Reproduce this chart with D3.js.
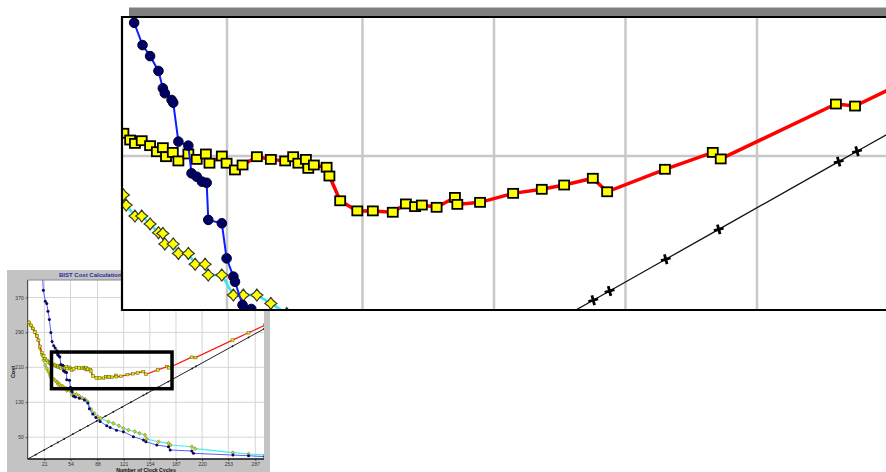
<!DOCTYPE html>
<html>
<head>
<meta charset="utf-8">
<script src="https://cdn.jsdelivr.net/npm/d3@7"></script>
<style>
  body { margin: 0; background: #fff; }
  svg { display: block; font-family: "Liberation Sans", Arial, sans-serif; }
</style>
</head>
<body>
<svg id="chart" width="886" height="472"></svg>
<script>
// tick labels of the small chart
const xTicks = [21, 54, 88, 121, 154, 187, 220, 253, 287];
const yTicks = [50, 130, 210, 290, 370];

// blue line, navy dots
const blueX = [18, 19.7, 22.2, 24, 25.6, 27.3, 29.2, 30.7, 32.8, 34.7, 36.8, 37.9, 38.4, 40.1, 40.5, 41.8, 44.3, 45.1, 46.4, 47.7, 48.9, 49.3, 52.7, 53.9, 55.6, 56, 57.9, 60.1, 65.2, 71.5, 75.8, 77.8, 82, 86, 91.3, 99.7, 104, 112, 120.7, 133.3, 146, 149, 162.8, 177.5, 179.7, 207, 209, 258.8, 278.5, 299];
const blueY = [440, 386.7, 361.6, 356, 338.7, 319.7, 290, 269.2, 259.3, 254.4, 247.8, 240.1, 237.9, 234.9, 233.7, 216.4, 214.6, 202.3, 200.8, 198.6, 198.1, 181.6, 180.1, 164.5, 156.4, 154.1, 143.8, 142, 139, 135, 128, 115, 103, 95, 86, 76, 72, 66, 62.5, 51, 43.5, 39.6, 32, 28, 20.6, 18.3, 13, 9, 7.5, 5.3];

// red line, yellow squares
const redX = [1.6, 4, 6.5, 9, 11.5, 13.5, 15.5, 17.7, 20, 22, 24, 26, 28, 29.7, 30.9, 32.6, 34.7, 36.4, 37.9, 38.7, 40.4, 41.8, 44.3, 46.4, 48.7, 49.6, 52.7, 53.9, 56, 57.9, 61.5, 65, 68.6, 70.6, 71.9, 73.8, 74.4, 75.8, 79, 79.7, 82.4, 86.7, 90.6, 95.6, 98.9, 101.2, 102.9, 106.6, 111.2, 111.8, 117.5, 125.8, 133, 138.6, 145.8, 149.4, 163.9, 175.9, 177.9, 206.8, 211.6, 258.3, 278.5, 299];
const redY = [313, 306, 299, 291, 282, 272, 258, 244, 236, 230, 226, 222, 220.1, 217.1, 215.6, 216.8, 214.6, 211.9, 213.7, 209.7, 211.6, 207.8, 210.9, 208.5, 210.9, 206.8, 210, 206.8, 203.8, 206, 209.7, 208.5, 207.8, 209.7, 206.8, 208.5, 204.5, 206, 205, 201.1, 190.1, 185.6, 185.6, 185, 188.7, 187.5, 188.2, 187.2, 191.6, 188.5, 189.4, 193.4, 195.2, 197.1, 200.1, 194.1, 204.1, 211.6, 208.7, 233.1, 232.2, 272.3, 289, 306.5];

// cyan line, yellow diamonds
const cyanX = [1.6, 4, 6.5, 9, 11.5, 13.5, 15.5, 18, 20, 22, 24, 26, 28, 28.7, 30.9, 32.6, 34.7, 36.8, 37.9, 38.4, 40.5, 41.8, 44.3, 46, 48.5, 49.3, 52.7, 55.6, 58.1, 61.5, 65, 69, 72.7, 75.8, 79.9, 84.1, 88.4, 92, 101.8, 108.1, 115, 120.7, 127, 135, 141, 148, 150.2, 164.9, 177.5, 180, 207, 211.2, 258.8, 278.5, 299.6];
const cyanY = [313, 306, 299, 291, 282, 272, 253, 238, 226, 215, 207, 200, 192.7, 188.2, 183.3, 183.3, 179.8, 175.9, 175.6, 170.9, 170.9, 166.7, 166.7, 161.9, 161.9, 157.1, 157.1, 148.2, 148.2, 148.2, 144.5, 140, 136.6, 131.1, 113.7, 104.6, 96.8, 93, 85.4, 81.7, 76, 70.2, 66.4, 63, 58.8, 55, 45.8, 39.6, 35.9, 32, 28.1, 23.6, 14.4, 11.4, 9.2];

// black line, crosses
const blackX = [0, 10, 21, 30, 38, 46, 57, 66, 76, 87, 98, 108, 119, 130, 145.9, 150, 164.1, 177.4, 207.5, 212.1, 258.3, 278.5, 298];
const blackY = [0, 10, 21, 30, 38, 46, 57, 66, 76, 87, 98, 108, 119, 130, 145.9, 150, 164.1, 177.4, 207.5, 212.1, 258.3, 278.5, 298];

// the zoomed window marked on the small chart
const zoomWindowX = [30, 182];
const zoomWindowY = [161, 245];

const zipXY = (xs, ys) => xs.map((x, i) => ({ x: x, y: ys[i] }));
const blue = zipXY(blueX, blueY);
const red = zipXY(redX, redY);
const cyan = zipXY(cyanX, cyanY);
const black = zipXY(blackX, blackY);

const svg = d3.select("#chart");

// ---------- small chart ----------
const small = { left: 27.7, right: 264, top: 280, bottom: 459 };
const sx = d3.scaleLinear().domain([0, 298]).range([small.left, small.right]);
const sy = d3.scaleLinear().domain([0, 410]).range([small.bottom, small.top]);

const sg = svg.append("g");
sg.append("rect").attr("x", 7).attr("y", 270).attr("width", 263).attr("height", 202).attr("fill", "#c3c3c3");
sg.append("defs").append("clipPath").attr("id", "smallClip")
    .append("rect").attr("x", small.left).attr("y", small.top)
    .attr("width", small.right - small.left).attr("height", small.bottom - small.top);
sg.append("rect").attr("x", small.left).attr("y", small.top)
    .attr("width", small.right - small.left).attr("height", small.bottom - small.top)
    .attr("fill", "#fff");

sg.append("g").selectAll("line").data(xTicks).join("line")
    .attr("x1", d => sx(d)).attr("x2", d => sx(d))
    .attr("y1", small.top).attr("y2", small.bottom)
    .attr("stroke", "#d6d6d6").attr("stroke-width", 1);
sg.append("g").selectAll("line").data(yTicks).join("line")
    .attr("x1", small.left).attr("x2", small.right)
    .attr("y1", d => sy(d)).attr("y2", d => sy(d))
    .attr("stroke", "#d6d6d6").attr("stroke-width", 1);

// axes
const xAxis = sg.append("g").attr("transform", `translate(0,${small.bottom})`)
    .call(d3.axisBottom(sx).tickValues(xTicks).tickSize(2).tickPadding(1).tickFormat(d3.format("d")));
const yAxis = sg.append("g").attr("transform", `translate(${small.left},0)`)
    .call(d3.axisLeft(sy).tickValues(yTicks).tickSize(2).tickPadding(2).tickFormat(d3.format("d")));
[xAxis, yAxis].forEach(ax => {
    ax.select(".domain").remove();
    ax.selectAll(".tick line").attr("stroke", "#555");
    ax.selectAll(".tick text").attr("font-size", 5).attr("fill", "#333").attr("font-family", "Liberation Sans, Arial");
});
sg.append("line").attr("x1", small.left).attr("x2", small.right).attr("y1", small.bottom).attr("y2", small.bottom)
    .attr("stroke", "#111").attr("stroke-width", 1.5);
sg.append("line").attr("x1", small.left).attr("x2", small.left).attr("y1", small.top).attr("y2", small.bottom)
    .attr("stroke", "#333").attr("stroke-width", 1);
sg.append("line").attr("x1", small.left).attr("x2", small.right).attr("y1", small.top).attr("y2", small.top)
    .attr("stroke", "#888").attr("stroke-width", 1);

sg.append("text").attr("x", 59).attr("y", 277).attr("font-size", 6).attr("font-weight", "bold")
    .attr("fill", "#2a2a9c").text("BIST Cost Calculation");
sg.append("text").attr("x", 146).attr("y", 471.5).attr("font-size", 5.2).attr("font-weight", "bold")
    .attr("text-anchor", "middle").attr("fill", "#111").text("Number of Clock Cycles");
sg.append("text").attr("transform", "translate(14.5,372) rotate(-90)").attr("font-size", 5.5)
    .attr("font-weight", "bold").attr("text-anchor", "middle").attr("fill", "#111").text("Cost");

const sLine = d3.line().x(d => sx(d.x)).y(d => sy(d.y));
const sPlot = sg.append("g").attr("clip-path", "url(#smallClip)");

sPlot.append("path").datum(black).attr("d", sLine).attr("fill", "none").attr("stroke", "#222").attr("stroke-width", 1);
sPlot.selectAll(".sblk").data(black).join("circle").attr("class", "sblk")
    .attr("cx", d => sx(d.x)).attr("cy", d => sy(d.y)).attr("r", 0.9).attr("fill", "#111");

sPlot.append("path").datum(cyan).attr("d", sLine).attr("fill", "none").attr("stroke", "#3ff0f0").attr("stroke-width", 1.2);
sPlot.selectAll(".sdia").data(cyan).join("path").attr("class", "sdia")
    .attr("transform", d => `translate(${sx(d.x)},${sy(d.y)})`)
    .attr("d", "M0,-2L1.6,0L0,2L-1.6,0Z").attr("fill", "#d8d800").attr("stroke", "#6b6b20").attr("stroke-width", 0.5);

sPlot.append("path").datum(red).attr("d", sLine).attr("fill", "none").attr("stroke", "#ff1a1a").attr("stroke-width", 1.2);
sPlot.selectAll(".ssq").data(red).join("rect").attr("class", "ssq")
    .attr("x", d => sx(d.x) - 1.5).attr("y", d => sy(d.y) - 1.3).attr("width", 3).attr("height", 2.6)
    .attr("fill", "#e8e800").attr("stroke", "#5a5a10").attr("stroke-width", 0.5);

sPlot.append("path").datum(blue).attr("d", sLine).attr("fill", "none").attr("stroke", "#5a5aff").attr("stroke-width", 1);
sPlot.selectAll(".sblu").data(blue).join("circle").attr("class", "sblu")
    .attr("cx", d => sx(d.x)).attr("cy", d => sy(d.y)).attr("r", 1.5).attr("fill", "#0a0a5a");

// black frame around the zoomed window
sg.append("rect")
    .attr("x", sx(zoomWindowX[0])).attr("y", sy(zoomWindowY[1]))
    .attr("width", sx(zoomWindowX[1]) - sx(zoomWindowX[0]))
    .attr("height", sy(zoomWindowY[0]) - sy(zoomWindowY[1]))
    .attr("fill", "none").attr("stroke", "#000").attr("stroke-width", 3.5);

// ---------- magnified view ----------
const big = { left: 122, right: 890, top: 17, bottom: 310 };
const bx = d3.scaleLinear().domain([54, 187]).range([227, 757]);
const by = d3.scaleLinear().domain([210, 290]).range([156, -24]);

const bg = svg.append("g");
bg.append("rect").attr("x", 129).attr("y", 7.5).attr("width", 760).attr("height", 9).attr("fill", "#7f7f7f");
bg.append("defs").append("clipPath").attr("id", "bigClip")
    .append("rect").attr("x", big.left).attr("y", big.top)
    .attr("width", big.right - big.left).attr("height", big.bottom - big.top);
bg.append("rect").attr("x", big.left).attr("y", big.top)
    .attr("width", big.right - big.left).attr("height", big.bottom - big.top).attr("fill", "#fff");

const bPlot = bg.append("g").attr("clip-path", "url(#bigClip)");
bPlot.append("g").selectAll("line").data(xTicks).join("line")
    .attr("x1", d => bx(d)).attr("x2", d => bx(d)).attr("y1", big.top).attr("y2", big.bottom)
    .attr("stroke", "#c8c8c8").attr("stroke-width", 2.5);
bPlot.append("g").selectAll("line").data(yTicks).join("line")
    .attr("x1", big.left).attr("x2", big.right).attr("y1", d => by(d)).attr("y2", d => by(d))
    .attr("stroke", "#c8c8c8").attr("stroke-width", 2.5);

const bLine = d3.line().x(d => bx(d.x)).y(d => by(d.y));

bPlot.append("path").datum(black).attr("d", bLine).attr("fill", "none").attr("stroke", "#111").attr("stroke-width", 1.3);
bPlot.selectAll(".bblk").data(black).join("path").attr("class", "bblk")
    .attr("transform", d => `translate(${bx(d.x)},${by(d.y)}) rotate(-15)`)
    .attr("d", "M-5,-1.4H5V1.4H-5Z M-1.4,-5H1.4V5H-1.4Z").attr("fill", "#000");

bPlot.append("path").datum(cyan).attr("d", bLine).attr("fill", "none").attr("stroke", "#30e8f0").attr("stroke-width", 2.5);
bPlot.selectAll(".bdia").data(cyan).join("path").attr("class", "bdia")
    .attr("transform", d => `translate(${bx(d.x)},${by(d.y)})`)
    .attr("d", "M0,-6L2.6,-2.6L6,0L2.6,2.6L0,6L-2.6,2.6L-6,0L-2.6,-2.6Z")
    .attr("fill", "#ffff00").attr("stroke", "#3a3a30").attr("stroke-width", 1.2);

bPlot.append("path").datum(red).attr("d", bLine).attr("fill", "none").attr("stroke", "#ff0000").attr("stroke-width", 3.5);
bPlot.selectAll(".bsq").data(red).join("rect").attr("class", "bsq")
    .attr("x", d => bx(d.x) - 5).attr("y", d => by(d.y) - 4.5).attr("width", 10).attr("height", 9)
    .attr("fill", "#ffff00").attr("stroke", "#000").attr("stroke-width", 1.8);

bPlot.append("path").datum(blue).attr("d", bLine).attr("fill", "none").attr("stroke", "#0a1eff").attr("stroke-width", 2);
bPlot.selectAll(".bblu").data(blue).join("circle").attr("class", "bblu")
    .attr("cx", d => bx(d.x)).attr("cy", d => by(d.y)).attr("r", 4.8)
    .attr("fill", "#000066").attr("stroke", "#00002a").attr("stroke-width", 1);

// frame of the magnified view
bg.append("path")
    .attr("d", `M${big.right},${big.top}H${big.left}V${big.bottom}H${big.right}`)
    .attr("fill", "none").attr("stroke", "#000").attr("stroke-width", 2.2);
</script>
</body>
</html>
